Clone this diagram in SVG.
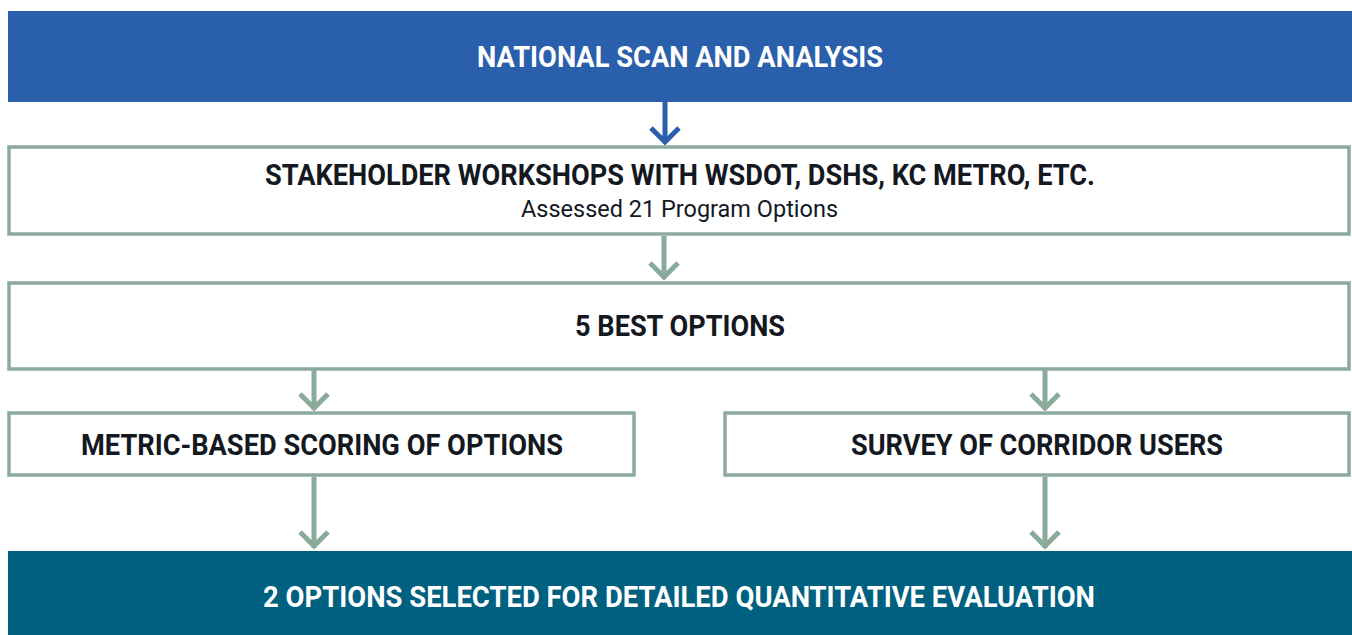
<svg xmlns="http://www.w3.org/2000/svg" width="1352" height="635" viewBox="0 0 1352 635">
<style>
.box{fill:#ffffff;stroke:#8AAA9C;stroke-width:3.5}
.t{font-family:Roboto,"Liberation Sans",sans-serif;font-weight:bold;font-size:30px;fill:#14181F;text-anchor:middle}
.w{fill:#ffffff}
.s{font-family:Roboto,"Liberation Sans",sans-serif;font-weight:normal;font-size:23px;fill:#14181F;text-anchor:middle}
.c{fill:none;stroke:#8AAA9C;stroke-width:5}
.cb{fill:none;stroke:#2A5FAB;stroke-width:5}
</style>
<rect width="1352" height="635" fill="#ffffff"/>
<g id="connectors">
<path class="cb" d="M665,102 V143 M651,128 L665,142 L679,128"/>
<path class="c" d="M664,236 V279 M650,263 L664,277 L678,263"/>
<path class="c" d="M314,370 V410 M300,394 L314,408 L328,394"/>
<path class="c" d="M1045,370 V410 M1031,394 L1045,408 L1059,394"/>
<path class="c" d="M314,477 V548 M300,532 L314,546 L328,532"/>
<path class="c" d="M1045,477 V548 M1031,532 L1045,546 L1059,532"/>
</g>
<g id="national">
<rect x="8" y="11" width="1344" height="91" fill="#2A5FAB"/>
<text class="t w" x="680" y="67" textLength="406" lengthAdjust="spacingAndGlyphs">NATIONAL SCAN AND ANALYSIS</text>
</g>
<g id="stakeholder">
<rect class="box" x="9" y="147" width="1340" height="87"/>
<text class="t" x="680" y="185" textLength="830" lengthAdjust="spacingAndGlyphs">STAKEHOLDER WORKSHOPS WITH WSDOT, DSHS, KC METRO, ETC.</text>
<text class="s" x="679.5" y="217" textLength="317" lengthAdjust="spacingAndGlyphs">Assessed 21 Program Options</text>
</g>
<g id="best">
<rect class="box" x="9" y="283" width="1340" height="86"/>
<text class="t" x="680" y="336" textLength="210" lengthAdjust="spacingAndGlyphs">5 BEST OPTIONS</text>
</g>
<g id="metric">
<rect class="box" x="9" y="413" width="625" height="62"/>
<text class="t" x="322" y="455" textLength="482" lengthAdjust="spacingAndGlyphs">METRIC-BASED SCORING OF OPTIONS</text>
</g>
<g id="survey">
<rect class="box" x="725" y="413" width="624" height="62"/>
<text class="t" x="1037" y="455" textLength="372" lengthAdjust="spacingAndGlyphs">SURVEY OF CORRIDOR USERS</text>
</g>
<g id="selected">
<rect x="8" y="551" width="1344" height="84" fill="#00607F"/>
<text class="t w" x="679" y="607" textLength="832" lengthAdjust="spacingAndGlyphs">2 OPTIONS SELECTED FOR DETAILED QUANTITATIVE EVALUATION</text>
</g>
</svg>
